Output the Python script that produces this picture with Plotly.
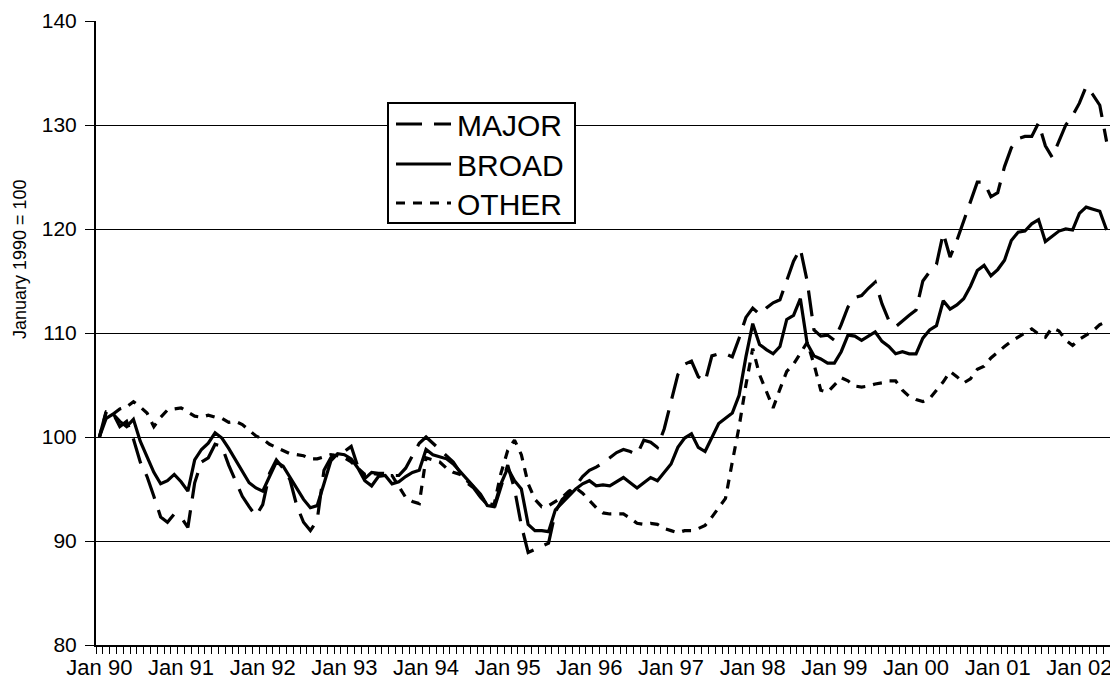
import plotly.graph_objects as go

# Monthly index values, January 1990 = 100 (Jan 1990 .. May 2002)
years = ["90", "91", "92", "93", "94", "95", "96", "97", "98", "99", "00", "01", "02"]
tick_labels = ["Jan " + y for y in years]
series_names = ["MAJOR", "BROAD", "OTHER"]

major = [
    100.0, 102.5, 102.3, 101.0, 101.5, 99.8, 97.6, 96.2, 94.3, 92.3, 91.8, 92.6,
    92.3, 91.3, 95.6, 97.6, 98.0, 99.3, 99.1, 97.3, 95.8, 94.3, 93.3, 92.4,
    93.5, 96.5, 97.8, 97.0, 95.9, 93.4, 91.8, 91.0, 92.0, 96.8, 98.0, 98.5,
    98.6, 99.1, 97.1, 96.0, 96.6, 96.5, 96.5, 96.3, 96.3, 97.0, 98.2, 99.4,
    100.0, 99.4, 98.9, 98.3, 97.6, 96.6, 95.6, 95.1, 94.2, 93.5, 93.1, 95.2,
    97.3, 95.0, 91.5, 88.9, 89.2, 89.5, 89.8, 92.8, 94.0, 94.6, 95.3, 96.2,
    96.8, 97.1, 97.5, 98.0, 98.5, 98.8, 98.6, 98.3, 99.7, 99.5, 99.0, 100.8,
    103.5, 106.0, 107.0, 107.3, 105.8, 105.3, 107.8, 108.0, 108.0, 107.7, 109.5, 111.5,
    112.4, 111.8, 112.4, 112.9, 113.2, 115.0, 116.9, 118.1, 115.0, 110.3, 109.7, 109.8,
    109.3, 110.8, 112.5, 113.4, 113.6, 114.3, 114.9, 112.8, 111.2, 110.6, 111.2, 111.7,
    112.2, 115.0, 115.9, 116.6, 119.6, 117.3, 118.9, 120.8, 122.5, 124.5, 124.5, 123.1,
    123.5, 126.0, 127.8, 128.7, 128.9, 128.9, 130.2, 128.0, 126.9, 128.5, 130.0, 130.9,
    132.1, 133.7, 132.9, 131.9, 128.4,
]

broad = [
    100.0, 101.8, 102.2, 101.5, 101.0, 101.7, 99.6, 98.0, 96.6, 95.5, 95.8, 96.4,
    95.7, 94.8, 97.8, 98.8, 99.4, 100.4, 99.9, 98.9, 97.8, 96.6, 95.6, 95.1,
    94.8, 96.2, 97.6, 97.2, 96.1, 95.1, 94.0, 93.2, 93.4, 95.5, 97.7, 98.4,
    98.3, 97.9, 97.0, 95.8, 95.3, 96.2, 96.3, 95.5, 95.7, 96.2, 96.6, 96.8,
    98.8, 98.3, 98.1, 97.9, 97.4, 96.7, 95.9, 95.2, 94.5, 93.4, 93.3, 95.5,
    97.0, 95.8, 95.0, 91.6, 91.0, 91.0, 90.9, 93.0, 93.7, 94.3, 95.0, 95.5,
    95.8, 95.3, 95.4, 95.3, 95.7, 96.1, 95.6, 95.1, 95.6, 96.1, 95.8, 96.6,
    97.4, 99.0, 99.9, 100.3, 99.0, 98.6, 100.0, 101.3, 101.8, 102.3, 104.0, 107.7,
    110.9, 108.9, 108.4, 108.0, 108.7, 111.3, 111.7, 113.3, 109.0, 107.8, 107.5, 107.1,
    107.1, 108.2, 109.8, 109.7, 109.3, 109.7, 110.1, 109.2, 108.7, 108.0, 108.2, 108.0,
    108.0, 109.5, 110.3, 110.7, 113.1, 112.3, 112.7, 113.3, 114.5, 116.0, 116.5, 115.5,
    116.1, 117.0, 118.9, 119.7, 119.8, 120.5, 120.9, 118.8, 119.3, 119.8, 120.0, 119.9,
    121.5, 122.1, 121.9, 121.7, 119.9,
]

other = [
    100.0, 102.4, 102.2, 102.7, 102.9, 103.4, 102.9, 102.3, 101.0, 101.9, 102.6, 102.7,
    102.8, 102.4, 102.0, 101.9, 102.1, 101.9, 101.8, 101.4, 101.5, 101.2, 100.6, 100.1,
    99.8, 99.3, 99.0, 98.7, 98.4, 98.3, 98.2, 97.9, 97.9, 98.1, 98.3, 98.2,
    98.0, 97.6, 97.0, 96.4, 96.5, 96.4, 96.3, 96.3, 95.3, 94.2, 93.8, 93.6,
    98.0, 97.8, 97.6, 97.0, 96.6, 96.4, 95.8, 95.2, 94.3, 93.6, 93.5, 96.5,
    98.7, 99.7, 98.3, 95.5, 94.0, 93.3, 93.4, 93.8, 94.2, 94.8, 95.1, 94.6,
    93.9, 93.2, 92.7, 92.6, 92.6, 92.6, 92.2, 91.7, 91.6, 91.7, 91.6, 91.2,
    91.0, 90.8, 91.0, 91.0, 91.2, 91.5, 92.3, 93.2, 94.1, 97.6, 101.0, 105.0,
    108.5, 106.0, 104.4, 102.8, 104.6, 106.3, 107.0, 108.0, 109.1, 107.0, 104.5, 104.3,
    105.0, 105.7, 105.4, 104.9, 104.8, 104.9, 105.1, 105.2, 105.4, 105.4, 104.5, 103.9,
    103.6, 103.4, 103.7, 104.5, 105.3, 106.3, 105.8, 105.2, 105.6, 106.5, 106.8, 107.6,
    108.2, 108.7, 109.2, 109.6, 110.0, 110.4, 109.9, 109.6, 110.5, 110.2, 109.3, 108.8,
    109.4, 109.8, 110.2, 110.8, 111.1,
]

months = list(range(len(broad)))
tick_positions = [12 * k for k in range(len(years))]

FONT = "Liberation Sans, Arial, sans-serif"
W, H = 1110, 688
L, R, T, B = 96, 0, 21, 43
PW, PH = W - L - R, H - T - B


def px_x(px):
    return (px - L) / PW


def px_y(py):
    return (H - B - py) / PH


dashes = {"MAJOR": "26px,12px", "BROAD": "solid", "OTHER": "9px,8px"}
series = {"MAJOR": major, "BROAD": broad, "OTHER": other}

fig = go.Figure()
for name in series_names:
    fig.add_trace(go.Scatter(x=months, y=series[name], mode="lines", name=name,
                             showlegend=False,
                             line=dict(color="black", width=3.2, dash=dashes[name])))

# Hand-built legend box (matches the boxed Excel-style legend)
shapes = [dict(type="rect", xref="paper", yref="paper",
               x0=px_x(388), x1=px_x(575), y0=px_y(223), y1=px_y(103),
               line=dict(color="black", width=2), fillcolor="white", layer="above")]
annotations = []
row_y = {"MAJOR": 124, "BROAD": 164, "OTHER": 203}
for name in series_names:
    yy = px_y(row_y[name])
    shapes.append(dict(type="line", xref="paper", yref="paper",
                       x0=px_x(396), x1=px_x(451), y0=yy, y1=yy, layer="above",
                       line=dict(color="black", width=3.2, dash=dashes[name])))
    annotations.append(dict(text=name, xref="paper", yref="paper",
                            x=px_x(455), y=px_y(row_y[name] + 2),
                            xanchor="left", yanchor="middle", showarrow=False,
                            font=dict(size=30, family=FONT, color="black")))

annotations.append(dict(
    text="January 1990 = 100", textangle=-90,
    xref="paper", yref="paper", x=px_x(20), y=px_y(259),
    xanchor="center", yanchor="middle", showarrow=False,
    font=dict(size=18, family=FONT, color="black"),
))

fig.update_layout(
    width=W, height=H,
    margin=dict(l=L, r=R, t=T, b=B, pad=0),
    paper_bgcolor="white", plot_bgcolor="white",
    font=dict(family=FONT, color="black"),
    showlegend=False,
    xaxis=dict(
        range=[-0.5, 148.5], automargin=False,
        tickmode="array", tickvals=tick_positions, ticktext=tick_labels,
        ticks="", showgrid=False, zeroline=False,
        showline=True, linecolor="black", linewidth=2,
        tickfont=dict(size=22, family=FONT, color="black"),
        ticklabelstandoff=2, ticklabeloverflow="allow",
        minor=dict(tick0=-0.5, dtick=1, ticks="outside", ticklen=7,
                   tickcolor="black", tickwidth=1, showgrid=False),
    ),
    yaxis=dict(
        range=[80, 140], tick0=80, dtick=10, automargin=False,
        ticks="outside", ticklen=9, tickcolor="black", tickwidth=1,
        showgrid=True, gridcolor="black", gridwidth=1,
        zeroline=False, showline=True, linecolor="black", linewidth=2,
        tickfont=dict(size=21, family=FONT, color="black"),
        ticklabelstandoff=4,
    ),
    shapes=shapes,
    annotations=annotations,
)

fig.write_html("out.html", config={"displayModeBar": False},
               post_script="document.body.style.margin='0px';")
